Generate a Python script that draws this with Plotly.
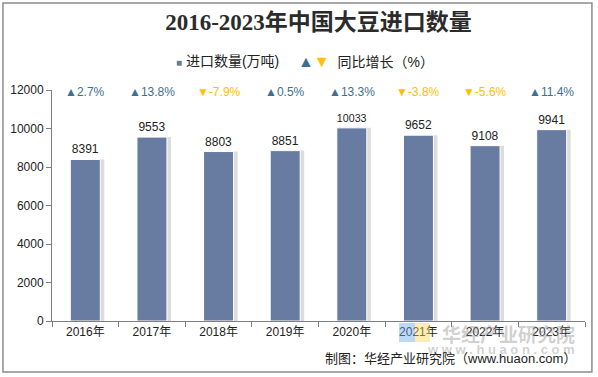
import plotly.graph_objects as go

years = ["2016年", "2017年", "2018年", "2019年", "2020年", "2021年", "2022年", "2023年"]
imports = [8391, 9553, 8803, 8851, 10033, 9652, 9108, 9941]
growth = [2.7, 13.8, -7.9, 0.5, 13.3, -3.8, -5.6, 11.4]

BAR = "#687ba0"
UP = "#3d6f91"
DOWN = "#ffc000"
FONT = "Liberation Sans, Arial, Noto Sans CJK SC, sans-serif"

fig = go.Figure()

# soft shadow to the right of each bar
fig.add_trace(go.Bar(
    x=years, y=imports, width=0.45, offset=-0.225 + 0.06,
    marker=dict(color="rgba(140,140,140,0.3)", line=dict(width=0)),
    hoverinfo="skip", showlegend=False,
))
fig.add_trace(go.Bar(
    x=years, y=imports, width=0.45, offset=-0.225,
    marker=dict(color=BAR, line=dict(color="white", width=1)),
    text=[str(v) for v in imports], textposition="outside",
    textfont=dict(size=12, color="#222", family=FONT),
    cliponaxis=False, showlegend=False,
))

for yr, g in zip(years, growth):
    up = g >= 0
    fig.add_annotation(
        x=yr, y=0.99, yref="paper", yanchor="middle", showarrow=False,
        text=("▲" if up else "▼") + f"{g}%",
        font=dict(size=12, color=UP if up else DOWN, family=FONT),
    )

# legend
fig.add_annotation(x=0.229, y=1.1255, xref="paper", yref="paper", showarrow=False,
                   xanchor="left", yanchor="middle",
                   text="<span style='color:%s;font-size:10px'>■</span> 进口数量(万吨)" % BAR,
                   font=dict(size=14, color="#222", family=FONT))
fig.add_annotation(x=0.458, y=1.1255, xref="paper", yref="paper", showarrow=False,
                   xanchor="left", yanchor="middle",
                   text="<span style='color:%s;font-size:16px'>▲</span><span style='color:%s;font-size:16px'>▼</span>  同比增长（%%）" % (UP, DOWN),
                   font=dict(size=14, color="#222", family=FONT))

# watermark logo + text
fig.add_shape(type="rect", xref="paper", yref="paper", x0=0.651, x1=0.681, y0=-0.091, y1=-0.0087,
              line=dict(width=0), fillcolor="rgba(110,170,240,0.45)")
fig.add_shape(type="rect", xref="paper", yref="paper", x0=0.681, x1=0.709, y0=-0.091, y1=-0.0087,
              line=dict(width=0), fillcolor="rgba(250,215,90,0.45)")
fig.add_annotation(x=0.985, y=-0.052, xref="paper", yref="paper", showarrow=False,
                   xanchor="right", yanchor="middle", text="<b>华经产业研究院</b>",
                   font=dict(size=19, color="rgba(150,150,150,0.45)", family="Noto Sans CJK SC"))
fig.add_annotation(x=0.985, y=-0.125, xref="paper", yref="paper", showarrow=False,
                   xanchor="right", yanchor="middle", text="<b>w w w . h u a o n . c o m</b>",
                   font=dict(size=13, color="rgba(150,150,150,0.45)", family=FONT))
# footer
fig.add_annotation(x=0.987, y=-0.1645, xref="paper", yref="paper", showarrow=False,
                   xanchor="right", yanchor="middle", text="制图：华经产业研究院（www.huaon.com）",
                   font=dict(size=13, color="#222", family=FONT))

# outer border
fig.add_shape(type="rect", xref="paper", yref="paper",
              x0=-0.092, x1=1.013, y0=-0.221, y1=1.377,
              line=dict(color="#8c8c8c", width=1.5), layer="below")

fig.update_layout(
    width=598, height=377,
    margin=dict(l=52, r=13, t=90, b=56),
    paper_bgcolor="white", plot_bgcolor="white",
    barmode="overlay",
    title=dict(text="<b>2016-2023年中国大豆进口数量</b>", x=0.5, xref="paper",
               y=0.942, yanchor="middle",
               font=dict(size=23, color="#2b2b2b", family="Liberation Serif, Noto Sans CJK SC, serif")),
    font=dict(family=FONT, size=12, color="#222"),
    showlegend=False,
)
fig.update_xaxes(showline=True, linecolor="#7f7f7f", linewidth=1, ticks="outside",
                 tickson="boundaries", ticklen=5, tickcolor="#7f7f7f",
                 tickfont=dict(size=12, color="#222"), showgrid=False, automargin=False)
fig.update_yaxes(range=[0, 12000], dtick=2000, tickformat="d", showline=True, linecolor="#7f7f7f",
                 linewidth=1, ticks="outside", ticklen=5, tickcolor="#7f7f7f",
                 showgrid=False, zeroline=False, tickfont=dict(size=12, color="#222"), automargin=False)

fig.write_html("out.html", post_script="document.body.style.margin='0';",
               config={"displayModeBar": False})
